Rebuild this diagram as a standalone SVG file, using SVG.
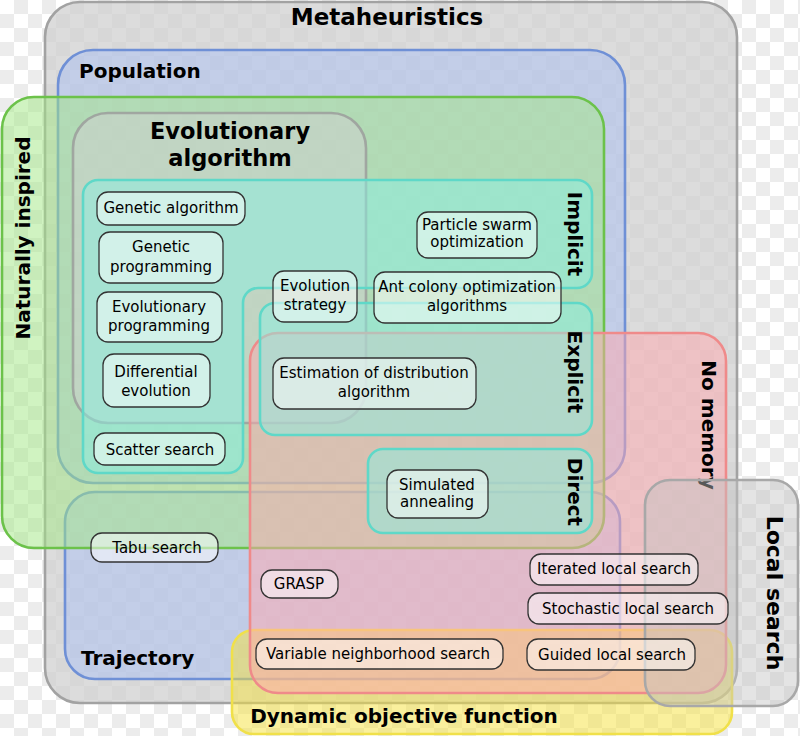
<svg xmlns="http://www.w3.org/2000/svg" width="800" height="736" viewBox="0 0 800 736">
<defs>
<pattern id="checker" width="28" height="28" patternUnits="userSpaceOnUse">
<rect width="28" height="28" fill="#ffffff"/>
<rect x="14" width="14" height="14" fill="#ececec"/>
<rect y="14" width="14" height="14" fill="#ececec"/>
</pattern>
</defs>
<style>
.set{stroke-width:2.6}
.gray{fill:#cfcfcf;fill-opacity:.72;stroke:#a2a2a2}
.blue{fill:#a9bff3;fill-opacity:.5;stroke:#6f90d6}
.green{fill:#a2e783;fill-opacity:.5;stroke:#6cc24a}
.evo{fill:#d0d0d0;fill-opacity:.5;stroke:#9a9a9a;stroke-opacity:.8}
.red{fill:#ffa7ad;fill-opacity:.5;stroke:#ef8a8a}
.teal{fill:#89efe2;fill-opacity:.5;stroke:#5fd8c8}
.yellow{fill:#f5e13c;fill-opacity:.5;stroke:#f0e04a}
.lsg{fill:#c4c4c4;fill-opacity:.45;stroke:#a8a8a8}
.title{font-family:"DejaVu Sans",sans-serif;font-weight:bold;font-size:20px;fill:#000}
.node rect{fill:#ffffff;fill-opacity:.5;stroke:#333333;stroke-width:1.3}
.node text{font-family:"DejaVu Sans",sans-serif;font-size:15px;fill:#000;text-anchor:middle}
</style>
<rect width="800" height="736" fill="url(#checker)"/>
<g id="sets">
<g id="metaheuristics"><rect class="set gray" x="45" y="2" width="692" height="701" rx="35"/><text class="title" x="387" y="25" text-anchor="middle" style="font-size:23px">Metaheuristics</text></g>
<g id="population"><rect class="set blue" x="58" y="50" width="567" height="433" rx="35"/><text class="title" x="79" y="78">Population</text></g>
<g id="trajectory"><rect class="set blue" x="65" y="492" width="555" height="187" rx="30"/><text class="title" x="81" y="665">Trajectory</text></g>
<g id="naturally-inspired"><rect class="set green" x="2" y="97" width="602" height="451" rx="32"/><text class="title" text-anchor="middle" transform="translate(30,238) rotate(-90)">Naturally inspired</text></g>
<g id="evolutionary-algorithm"><rect class="set evo" x="73" y="113" width="293" height="310" rx="35"/><text class="title" x="230" y="139" text-anchor="middle" style="font-size:22.5px">Evolutionary</text><text class="title" x="230" y="166" text-anchor="middle" style="font-size:22.5px">algorithm</text></g>
<g id="dynamic-objective-function"><rect class="set yellow" x="232" y="630" width="500" height="104" rx="22"/><text class="title" x="404" y="723" text-anchor="middle">Dynamic objective function</text></g>
<g id="no-memory"><rect class="set red" x="250" y="333" width="476" height="360" rx="28"/><text class="title" text-anchor="middle" transform="translate(702,425) rotate(90)">No memory</text></g>
<g id="implicit"><path class="set teal" d="M98,180 H577 A15,15 0 0 1 592,195 V273 A15,15 0 0 1 577,288 H258 A15,15 0 0 0 243,303 V458 A15,15 0 0 1 228,473 H98 A15,15 0 0 1 83,458 V195 A15,15 0 0 1 98,180 Z"/><text class="title" text-anchor="middle" transform="translate(568,234) rotate(90)">Implicit</text></g>
<g id="explicit"><rect class="set teal" x="260" y="303" width="332" height="132" rx="15"/><text class="title" text-anchor="middle" transform="translate(568,372) rotate(90)">Explicit</text></g>
<g id="direct"><rect class="set teal" x="368" y="449" width="224" height="84" rx="15"/><text class="title" text-anchor="middle" transform="translate(568,492) rotate(90)">Direct</text></g>
<g id="local-search"><rect class="set lsg" x="645" y="480" width="153" height="226" rx="25"/><text class="title" text-anchor="middle" style="font-size:22px" transform="translate(767,593) rotate(90)">Local search</text></g>
</g>
<g id="nodes">
<g id="genetic-algorithm" class="node"><rect x="97" y="192" width="148" height="33" rx="11"/><text x="171" y="213">Genetic algorithm</text></g>
<g id="genetic-programming" class="node"><rect x="99" y="232" width="124" height="51" rx="11"/><text x="161" y="252">Genetic</text><text x="161" y="272">programming</text></g>
<g id="evolutionary-programming" class="node"><rect x="97" y="292" width="125" height="50" rx="11"/><text x="159" y="312">Evolutionary</text><text x="159" y="331">programming</text></g>
<g id="differential-evolution" class="node"><rect x="103" y="354" width="107" height="53" rx="11"/><text x="156" y="377">Differential</text><text x="156" y="396">evolution</text></g>
<g id="scatter-search" class="node"><rect x="94" y="433" width="131" height="32" rx="11"/><text x="160" y="455">Scatter search</text></g>
<g id="evolution-strategy" class="node"><rect x="273" y="271" width="84" height="51" rx="11"/><text x="315" y="291">Evolution</text><text x="315" y="310">strategy</text></g>
<g id="particle-swarm" class="node"><rect x="417" y="212" width="120" height="46" rx="11"/><text x="477" y="230">Particle swarm</text><text x="477" y="247">optimization</text></g>
<g id="ant-colony" class="node"><rect x="374" y="272" width="187" height="51" rx="11"/><text x="467" y="292">Ant colony optimization</text><text x="467" y="311">algorithms</text></g>
<g id="estimation-of-distribution" class="node"><rect x="273" y="358" width="203" height="51" rx="11"/><text x="374" y="378">Estimation of distribution</text><text x="374" y="397">algorithm</text></g>
<g id="simulated-annealing" class="node"><rect x="387" y="470" width="101" height="48" rx="11"/><text x="437" y="490">Simulated</text><text x="437" y="507">annealing</text></g>
<g id="tabu-search" class="node"><rect x="91" y="533" width="127" height="29" rx="11"/><text x="157" y="553">Tabu search</text></g>
<g id="grasp" class="node"><rect x="261" y="570" width="77" height="28" rx="11"/><text x="299" y="589">GRASP</text></g>
<g id="variable-neighborhood-search" class="node"><rect x="256" y="639" width="247" height="30" rx="11"/><text x="378" y="659">Variable neighborhood search</text></g>
<g id="iterated-local-search" class="node"><rect x="530" y="554" width="168" height="31" rx="11"/><text x="614" y="574">Iterated local search</text></g>
<g id="stochastic-local-search" class="node"><rect x="528" y="593" width="200" height="31" rx="11"/><text x="628" y="614">Stochastic local search</text></g>
<g id="guided-local-search" class="node"><rect x="527" y="639" width="168" height="31" rx="11"/><text x="612" y="660">Guided local search</text></g>
</g>
<g id="connectors"></g>
</svg>
